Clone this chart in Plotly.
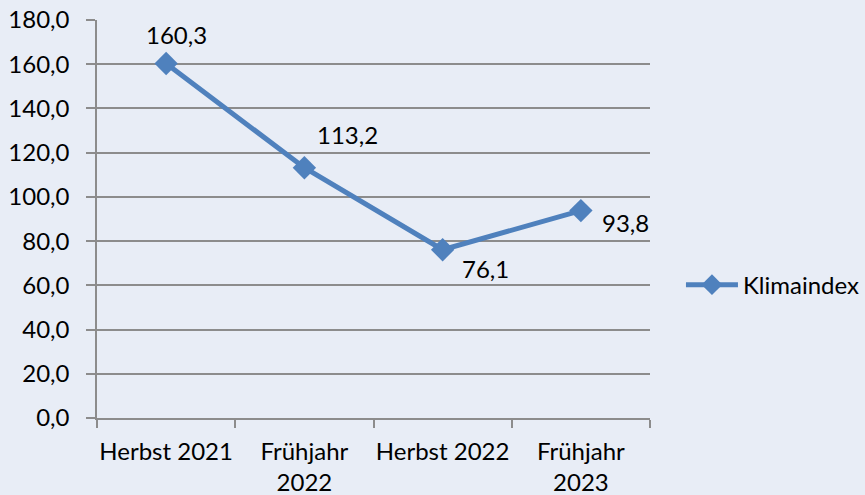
import plotly.graph_objects as go

categories = ["Herbst 2021", "Frühjahr<br>2022", "Herbst 2022", "Frühjahr<br>2023"]
values = [160.3, 113.2, 76.1, 93.8]
label_shifts = [(10, 29, "center"), (43, 33, "center"), (43, -19, "center"), (19, -12, "left")]
y_ticks = [0, 20, 40, 60, 80, 100, 120, 140, 160, 180]

BG = "#E8EDF6"
LINE = "#4F81BD"
GRID = "#8C8C8C"
FONT = "Lato"
FS = 24

fig = go.Figure()
fig.add_trace(go.Scatter(
    x=categories, y=values, name="Klimaindex",
    mode="lines+markers",
    line=dict(color=LINE, width=5),
    marker=dict(symbol="diamond", size=18, color=LINE),
    cliponaxis=False,
))
for c, v, (xs, ys, xa) in zip(categories, values, label_shifts):
    fig.add_annotation(x=c, y=v, text=f"{v:.1f}".replace(".", ","), showarrow=False,
                       xshift=xs, yshift=ys, xanchor=xa, yanchor="middle",
                       font=dict(family=FONT, size=FS, color="#000"))

fig.update_layout(
    width=865, height=495,
    margin=dict(l=97, r=215, t=20, b=77, autoexpand=False),
    paper_bgcolor=BG, plot_bgcolor=BG,
    separators=",.",
    font=dict(family=FONT, size=FS, color="#000"),
    showlegend=True,
    legend=dict(x=1.056, y=0.334, xanchor="left", yanchor="middle",
                bgcolor="rgba(0,0,0,0)", font=dict(family=FONT, size=FS),
                itemwidth=52, borderwidth=0),
)
fig.update_xaxes(
    type="category", showgrid=False, showline=True, linecolor=GRID, linewidth=1.5,
    ticks="outside", tickson="boundaries", ticklen=8, tickcolor=GRID, tickwidth=1.5,
    range=[-0.5, 3.5], tickfont=dict(family=FONT, size=FS), tickangle=0,
    automargin=False, ticklabelstandoff=11,
)
fig.update_yaxes(
    range=[0, 180], tickvals=y_ticks, tickformat=".1f",
    showgrid=True, gridcolor=GRID, gridwidth=1.5,
    showline=True, linecolor=GRID, linewidth=1.5,
    ticks="outside", ticklen=9, tickcolor=GRID, tickwidth=1.5,
    zeroline=False, ticklabelstandoff=12, automargin=False,
    tickfont=dict(family=FONT, size=FS),
)
fig.write_html(
    "out.html",
    config={"displayModeBar": False},
    post_script="document.body.style.margin='0';document.body.style.background='#E8EDF6';",
)
